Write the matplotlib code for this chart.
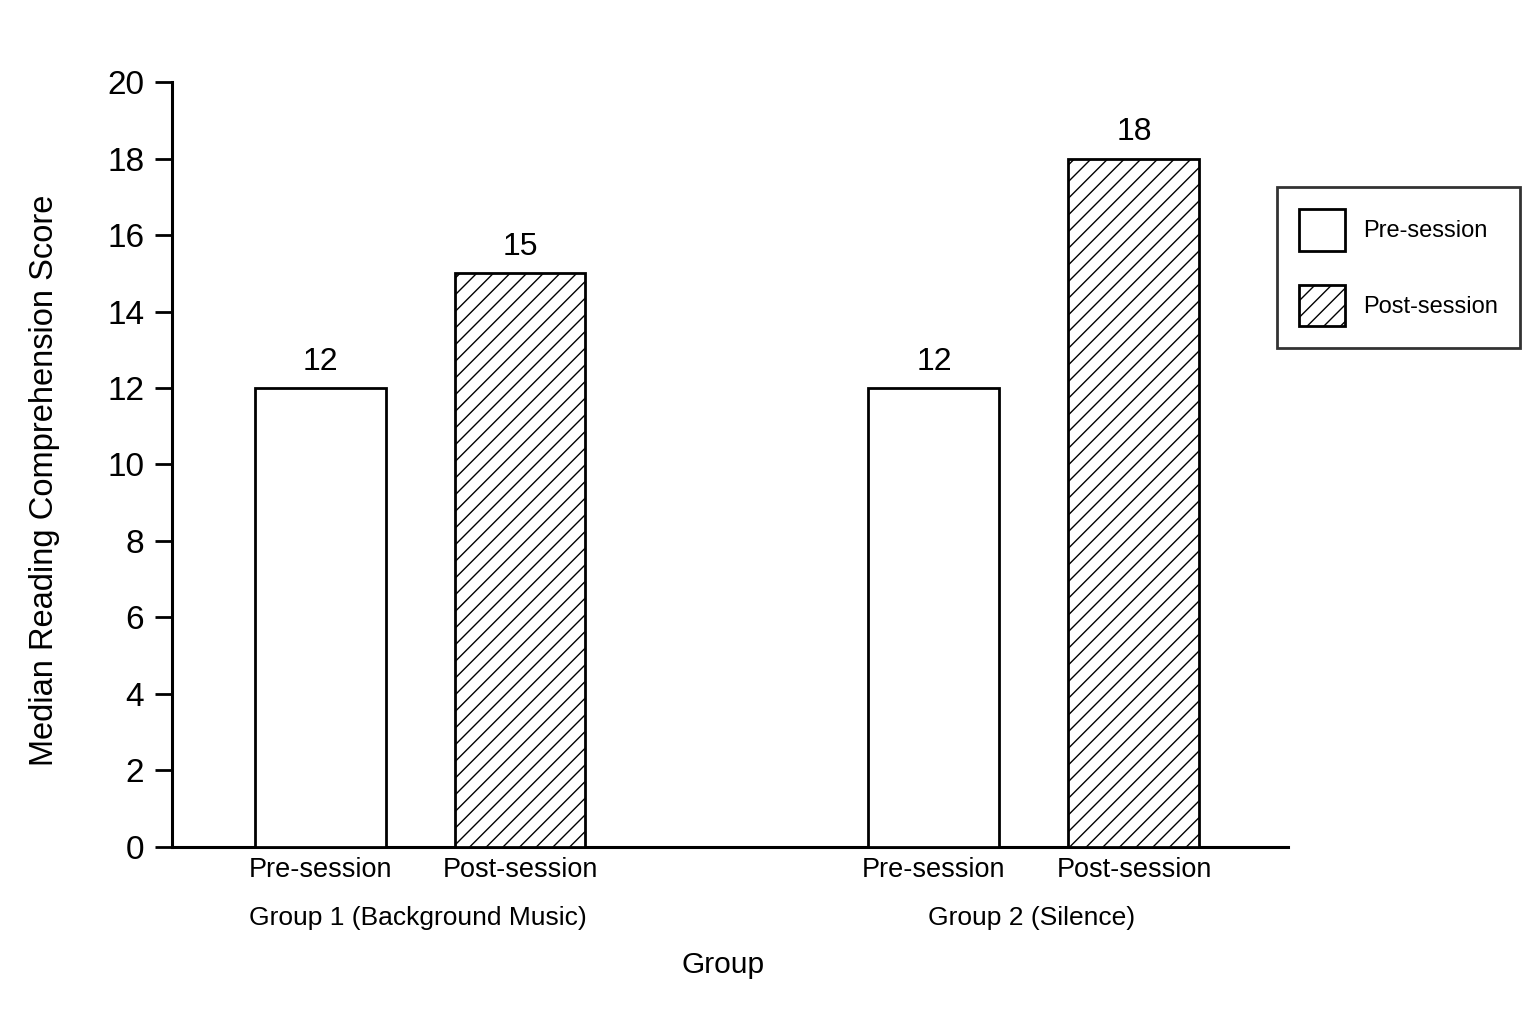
import matplotlib
matplotlib.use("Agg")
import matplotlib.pyplot as plt
import matplotlib.transforms as mtransforms
from matplotlib.patches import Patch

plt.rcParams['font.family'] = ['Liberation Sans', 'DejaVu Sans']
plt.rcParams['hatch.linewidth'] = 1.0

# ---- data ----
groups = ["Group 1 (Background Music)", "Group 2 (Silence)"]
sessions = ["Pre-session", "Post-session"]
pre_scores = [12, 12]
post_scores = [15, 18]
y_ticks = [0, 2, 4, 6, 8, 10, 12, 14, 16, 18, 20]

# ---- layout ----
group_centers = [2.48, 8.62]
offset = 1.0
bar_width = 1.31

fig = plt.figure(figsize=(15.36, 10.24), dpi=100)
ax = fig.add_axes([0.112, 0.1729, 0.7265, 0.747])

pre_x = [c - offset for c in group_centers]
post_x = [c + offset for c in group_centers]

lw = 2.0
b1 = ax.bar(pre_x, pre_scores, width=bar_width, color='white', edgecolor='black',
            linewidth=lw, label=sessions[0], zorder=3)
b2 = ax.bar(post_x, post_scores, width=bar_width, color='white', edgecolor='black',
            linewidth=lw, hatch='//', label=sessions[1], zorder=3)

ax.bar_label(b1, labels=[str(v) for v in pre_scores], padding=8, fontsize=23)
ax.bar_label(b2, labels=[str(v) for v in post_scores], padding=8, fontsize=23)

ax.set_xlim(0, 11.16)
ax.set_ylim(0, 20)
ax.set_yticks(y_ticks)
ax.set_yticklabels([str(t) for t in y_ticks], fontsize=24)

xt = []
xl = []
for i in range(len(groups)):
    xt += [pre_x[i], post_x[i]]
    xl += sessions
ax.set_xticks(xt)
ax.set_xticklabels(xl, fontsize=19.5)
ax.tick_params(axis='x', length=0, pad=7)
ax.tick_params(axis='y', length=12, width=2, pad=8)

for s in ['top', 'right']:
    ax.spines[s].set_visible(False)
for s in ['left', 'bottom']:
    ax.spines[s].set_linewidth(2.2)

trans = mtransforms.blended_transform_factory(ax.transData, ax.transAxes)
for gc, g in zip(group_centers, groups):
    ax.text(gc - 0.02, -0.0935, g, transform=trans, ha='center', va='center', fontsize=19)

ax.set_xlabel("Group", fontsize=21.5)
ax.xaxis.label.set_va('center')
ax.xaxis.set_label_coords(0.4937, -0.154)

ax.set_ylabel("Median Reading Comprehension Score", fontsize=23.5)
ax.yaxis.label.set_va('center')
ax.yaxis.set_label_coords(-0.1145, 0.4797)

handles = [Patch(facecolor='white', edgecolor='black', linewidth=2.0),
           Patch(facecolor='white', edgecolor='black', linewidth=2.0, hatch='//')]
leg = ax.legend(handles, sessions, loc='upper left', bbox_to_anchor=(0.990, 0.8627),
                borderaxespad=0, fontsize=17, frameon=True, fancybox=False,
                handlelength=1.95, handleheight=2.3, handletextpad=0.76,
                labelspacing=1.45, borderpad=0.95)
leg.get_frame().set_edgecolor('black')
leg.get_frame().set_linewidth(2.0)

fig.savefig("out.png", dpi=100, facecolor='white')
